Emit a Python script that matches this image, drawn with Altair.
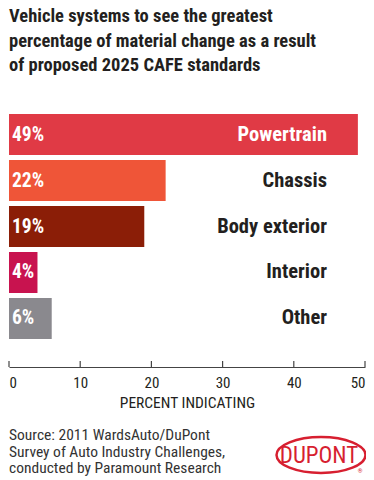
import altair as alt
import pandas as pd

categories = ["Powertrain", "Chassis", "Body exterior", "Interior", "Other"]
values = [49, 22, 19, 4, 6]
bar_colors = ["#E03A45", "#EF5538", "#8B1E07", "#C8134F", "#8A898E"]
name_colors = ["#FFFFFF", "#231F20", "#231F20", "#231F20", "#231F20"]
tick_values = [0, 10, 20, 30, 40, 50]
title_lines = [
    "Vehicle systems to see the greatest",
    "percentage of material change as a result",
    "of proposed 2025 CAFE standards",
]
source_lines = [
    "Source: 2011 WardsAuto/DuPont",
    "Survey of Auto Industry Challenges,",
    "conducted by Paramount Research",
]
axis_title = "PERCENT INDICATING"

FONT = "Roboto Condensed, Liberation Sans Narrow, Roboto, sans-serif"
DARK = "#231F20"
RED = "#D71F30"

df = pd.DataFrame({
    "category": categories,
    "value": values,
    "label": [f"{v}%" for v in values],
    "bar_color": bar_colors,
    "name_color": name_colors,
})
ticks_df = pd.DataFrame({"value": tick_values})
one = pd.DataFrame({"k": [0]})

xscale = alt.Scale(domain=[0, 50], nice=False, zero=True)
yscale = alt.Scale(domain=categories, paddingInner=0.1087, paddingOuter=0.609)
xaxis = alt.Axis(values=tick_values, domain=True, domainColor="#444444",
                 domainWidth=1.2, ticks=False, grid=False, labelFlush=True,
                 labelFont=FONT, labelFontSize=15, labelColor=DARK,
                 labelPadding=8, title=axis_title, titleFont=FONT,
                 titleFontSize=15.5, titleFontWeight="normal",
                 titleColor=DARK, titlePadding=5)

bars = alt.Chart(df).mark_bar().encode(
    x=alt.X("value:Q", scale=xscale, axis=xaxis),
    y=alt.Y("category:N", scale=yscale, axis=None),
    color=alt.Color("bar_color:N", scale=None, legend=None),
)

value_text = alt.Chart(df).mark_text(
    align="left", baseline="middle", font=FONT, fontSize=19.5, fontWeight="bold",
    color="white"
).encode(
    x=alt.value(3),
    y=alt.Y("category:N", scale=yscale, axis=None),
    text="label:N",
)

name_text = alt.Chart(df).mark_text(
    align="right", baseline="middle", font=FONT, fontSize=20.5, fontWeight="bold"
).encode(
    x=alt.value(318),
    y=alt.Y("category:N", scale=yscale, axis=None),
    text="category:N",
    color=alt.Color("name_color:N", scale=None, legend=None),
)

tick_rules = alt.Chart(ticks_df).mark_rule(color="#444444", strokeWidth=1.2).encode(
    x=alt.X("value:Q", scale=xscale, axis=xaxis),
    y=alt.value(275),
    y2=alt.value(281),
)

title_text = alt.Chart(one).mark_text(
    text=title_lines, align="left", baseline="alphabetic", font=FONT,
    fontSize=18.5, fontWeight="bold", color=DARK, lineHeight=24.5
).encode(x=alt.value(0), y=alt.value(-64))

source_text = alt.Chart(one).mark_text(
    text=source_lines, align="left", baseline="alphabetic", font=FONT,
    fontSize=15.5, color="#333333", lineHeight=16.5
).encode(x=alt.value(0), y=alt.value(354))

logo_ring = alt.Chart(one).mark_point(
    shape="M-1,0A1,0.404,0,1,1,1,0A1,0.404,0,1,1,-1,0Z",
    size=7921, filled=False, stroke=RED, strokeWidth=2.5, opacity=1
).encode(x=alt.value(312), y=alt.value(369))

logo_text = alt.Chart(one).mark_text(
    text="DUPONT", align="center", baseline="middle", font=FONT,
    fontSize=23, fontWeight="normal", color=RED
).encode(x=alt.value(310), y=alt.value(370))

logo_reg = alt.Chart(one).mark_text(
    text="®", align="center", baseline="middle", font=FONT,
    fontSize=6, color=RED
).encode(x=alt.value(351), y=alt.value(385))

chart = alt.layer(
    bars, value_text, name_text, tick_rules, title_text, source_text,
    logo_ring, logo_text, logo_reg
).properties(
    width=356, height=281,
    padding={"left": 1, "top": 78, "right": 1, "bottom": 110},
    autosize=alt.AutoSizeParams(type="none"),
    background="white",
).configure_view(stroke=None)

chart.save("out.html", embed_options={"renderer": "svg", "actions": False})
